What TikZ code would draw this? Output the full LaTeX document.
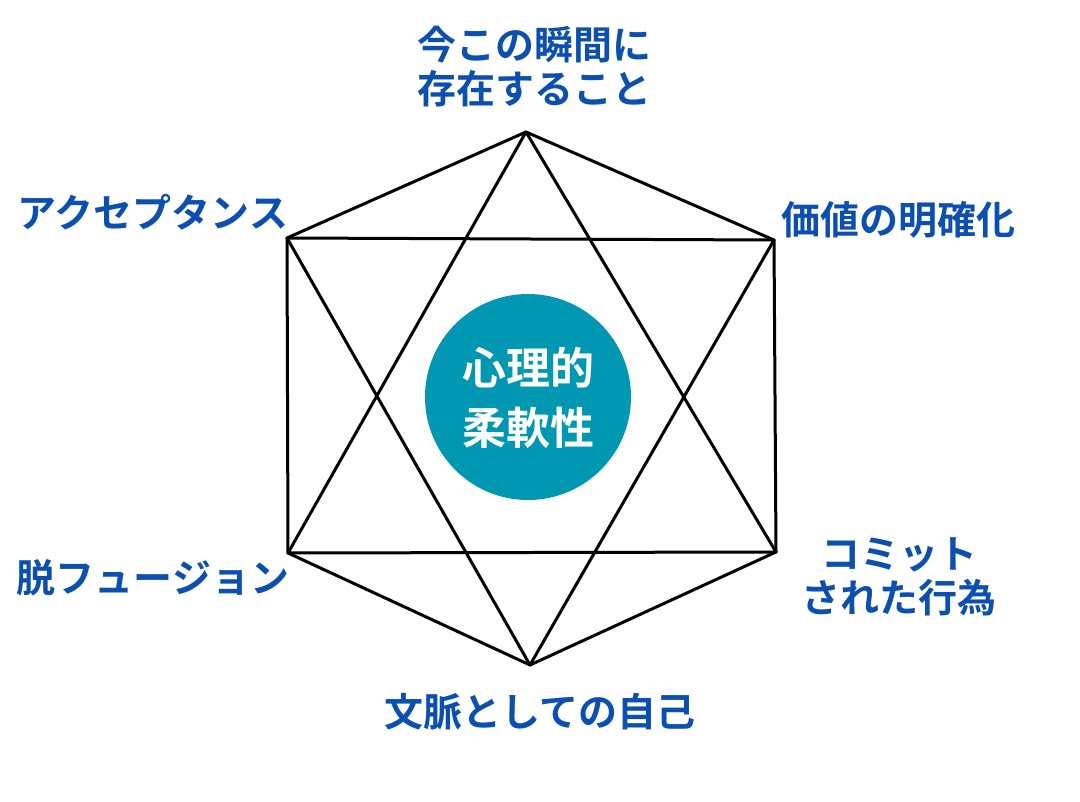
\documentclass[tikz,border=0pt]{standalone}
\usepackage{fontspec}
\newfontfamily\cjk{Noto Sans CJK JP}[BoldFont={* Bold}]
\definecolor{lbl}{HTML}{0B4FB0}
\definecolor{teal}{HTML}{0097B2}
\begin{document}
\begin{tikzpicture}[x=1pt,y=-1pt,
  lab/.style={font=\cjk\bfseries\fontsize{39}{44}\selectfont,text=lbl,align=center,inner sep=0},
  edge/.style={line width=3pt,line join=round,line cap=round}]
\useasboundingbox (0,0) rectangle (1080,802);
\coordinate (T) at (526,132);
\coordinate (UL) at (287,238);
\coordinate (UR) at (774,240);
\coordinate (LL) at (288,553);
\coordinate (LR) at (776,552);
\coordinate (B) at (530,665);
\draw[edge] (T)--(UR)--(LR)--(B)--(LL)--(UL)--cycle;
\draw[edge] (T)--(LR)--(LL)--cycle;
\draw[edge] (B)--(UL)--(UR)--cycle;
\node[circle,fill=teal,minimum size=206pt,inner sep=0] (c) at (528,397) {};
\node[font=\cjk\bfseries\fontsize{44}{60}\selectfont,text=white,align=center] (ct) at (528,398) {心理的\\柔軟性};
\node[lab] (l1) at (534,67) {今この瞬間に\\存在すること};
\node[lab] (l2) at (898,220) {価値の明確化};
\node[lab] (l3) at (899,577) {コミット\\された行為};
\node[lab] (l4) at (540,712) {文脈としての自己};
\node[lab] (l5) at (153,578) {脱フュージョン};
\node[lab] (l6) at (153,212) {アクセプタンス};
\end{tikzpicture}
\end{document}
